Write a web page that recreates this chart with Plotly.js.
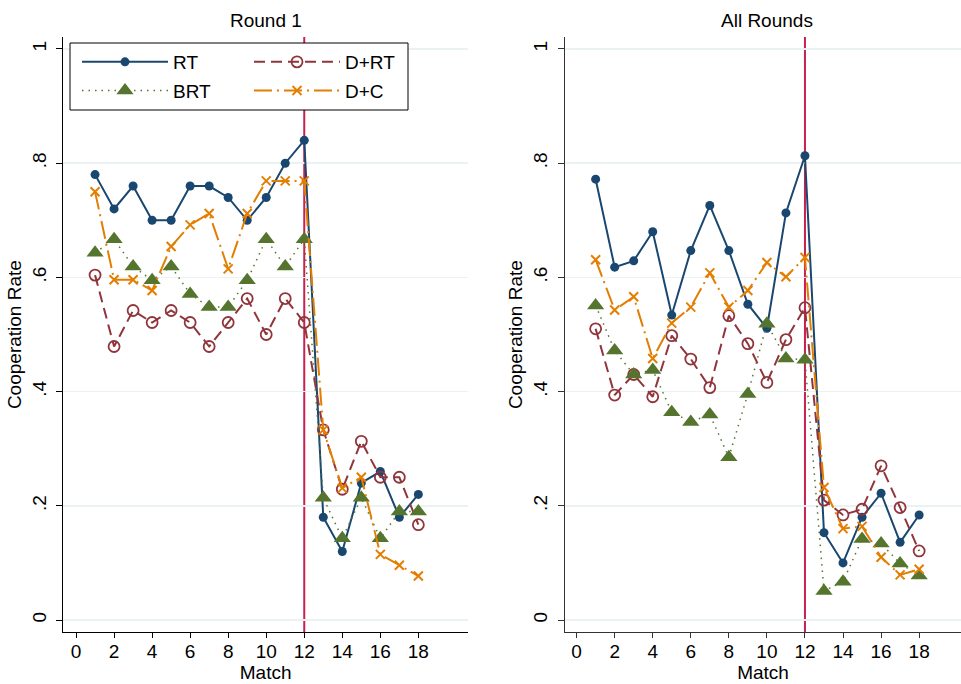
<!DOCTYPE html>
<html>
<head>
<meta charset="utf-8">
<script src="https://cdn.plot.ly/plotly-3.0.1.min.js"></script>
<style>html,body{margin:0;padding:0;background:#fff;}#chart{width:961px;height:684px;}</style>
</head>
<body>
<div id="chart"></div>
<script>
const matches = [1,2,3,4,5,6,7,8,9,10,11,12,13,14,15,16,17,18];
const seriesNames = ["RT","D+RT","BRT","D+C"];

// Round 1
const r1_RT  = [0.78,0.72,0.76,0.70,0.70,0.76,0.76,0.74,0.70,0.74,0.80,0.84,0.18,0.12,0.24,0.26,0.18,0.22];
const r1_DRT = [0.604,0.479,0.542,0.521,0.542,0.521,0.479,0.521,0.563,0.500,0.563,0.521,0.333,0.229,0.313,0.25,0.25,0.167];
const r1_BRT = [0.643,0.667,0.619,0.595,0.619,0.571,0.548,0.548,0.595,0.667,0.619,0.667,0.214,0.143,0.214,0.143,0.190,0.190];
const r1_DC  = [0.75,0.596,0.596,0.577,0.654,0.692,0.712,0.615,0.712,0.769,0.769,0.769,0.333,0.231,0.25,0.115,0.096,0.077];

// All rounds
const all_RT  = [0.772,0.618,0.629,0.680,0.534,0.647,0.726,0.647,0.553,0.511,0.713,0.813,0.153,0.100,0.180,0.222,0.136,0.184];
const all_DRT = [0.510,0.394,0.430,0.391,0.498,0.457,0.407,0.533,0.484,0.416,0.491,0.547,0.210,0.184,0.194,0.270,0.197,0.121];
const all_BRT = [0.551,0.472,0.430,0.438,0.364,0.347,0.360,0.285,0.396,0.519,0.458,0.456,0.051,0.067,0.142,0.134,0.099,0.078];
const all_DC  = [0.631,0.543,0.566,0.458,0.520,0.548,0.608,0.548,0.577,0.626,0.601,0.635,0.232,0.160,0.164,0.110,0.079,0.089];

const xTickVals = [0,2,4,6,8,10,12,14,16,18];
const yTickVals = [0,0.2,0.4,0.6,0.8,1];
const yTickText = ["0",".2",".4",".6",".8","1"];
const breakMatch = 12;

const FONT = "Liberation Sans, Arial, sans-serif";
const styles = {
  "RT":   {color:"#1a476f", dash:"solid", width:2, marker:{symbol:"circle", size:9, color:"#1a476f"}},
  "D+RT": {color:"#90353b", dash:"11px,6px", width:2, marker:{symbol:"circle-open", size:11, color:"#90353b", line:{width:1.8}}},
  "BRT":  {color:"#55752f", dash:"1.5px,5px", width:1.5, marker:{symbol:"triangle-up", size:15, color:"#55752f"}},
  "D+C":  {color:"#e37e00", dash:"18px,5px,2px,5px", width:2, marker:{symbol:"x-thin-open", size:9, color:"#e37e00", line:{width:2, color:"#e37e00"}}}
};

function tr(name, y, xa, ya, show, legend, group) {
  const s = styles[name];
  return {
    x: matches, y: y, name: name, type: "scatter", mode: "lines+markers",
    xaxis: xa, yaxis: ya, showlegend: show, legend: legend, legendgroup: group,
    line: {color: s.color, dash: s.dash, width: s.width},
    marker: s.marker
  };
}

const data = [
  tr("RT", r1_RT, "x", "y", true, "legend", "a"),
  tr("D+RT", r1_DRT, "x", "y", true, "legend2", "b"),
  tr("BRT", r1_BRT, "x", "y", true, "legend", "c"),
  tr("D+C", r1_DC, "x", "y", true, "legend2", "d"),
  tr("RT", all_RT, "x2", "y2", false, "legend", "a"),
  tr("D+RT", all_DRT, "x2", "y2", false, "legend2", "b"),
  tr("BRT", all_BRT, "x2", "y2", false, "legend", "c"),
  tr("D+C", all_DC, "x2", "y2", false, "legend2", "d")
];

const W = 961, H = 684;
const yDom = [(H-632.3)/H, (H-37)/H];

function xAxis(domain, range, anchor, lineColor) {
  return {
    domain: domain, range: range, anchor: anchor,
    tickmode: "array", tickvals: xTickVals, ticks: "outside", ticklen: 5, tickwidth: 1, tickcolor: lineColor,
    showline: true, linecolor: lineColor, linewidth: 1, showgrid: false, zeroline: false,
    ticklabelstandoff: -3,
    tickfont: {family: FONT, size: 19, color: "#000"},
    title: {text: "Match", font: {family: FONT, size: 19, color: "#000"}, standoff: 4}
  };
}
function yAxis(anchor, lineColor) {
  return {
    domain: yDom, range: [-0.0215, 1.021], anchor: anchor,
    tickmode: "array", tickvals: yTickVals, ticktext: yTickText, tickangle: -90,
    ticks: "outside", ticklen: 6, tickwidth: 1, tickcolor: lineColor,
    showline: true, linecolor: lineColor, linewidth: 1,
    showgrid: true, gridcolor: "#eaf2f3", gridwidth: 1.5, zeroline: false,
    ticklabelstandoff: 3,
    tickfont: {family: FONT, size: 19, color: "#000"},
    title: {text: "Cooperation Rate", font: {family: FONT, size: 19, color: "#000"}, standoff: 2}
  };
}

const x1L = 63.3/W, x1R = 468/W, x2L = 565/W;

const legendCommon = {
  yanchor: "top", xanchor: "left", orientation: "v",
  bgcolor: "rgba(0,0,0,0)", borderwidth: 0, itemwidth: 86,
  font: {family: FONT, size: 19, color: "#000"}, tracegroupgap: 1, itemclick: false
};

const layout = {
  width: W, height: H,
  margin: {l: 0, r: 0, t: 0, b: 0},
  paper_bgcolor: "#fff", plot_bgcolor: "#fff",
  font: {family: FONT, size: 19, color: "#000"},
  xaxis: xAxis([x1L, x1R], [-0.67, 20.61], "y", "#000"),
  yaxis: yAxis("x", "#000"),
  xaxis2: xAxis([x2L, 1], [-0.61, 20.2], "y2", "#333"),
  yaxis2: yAxis("x2", "#333"),
  legend: Object.assign({}, legendCommon, {x: 77/W, y: (H-43)/H}),
  legend2: Object.assign({}, legendCommon, {x: 249/W, y: (H-43)/H}),
  shapes: [
    {type: "line", xref: "x", yref: "y domain", x0: breakMatch, x1: breakMatch, y0: 0, y1: 1,
     line: {color: "#c8204f", width: 2}, layer: "below"},
    {type: "line", xref: "x2", yref: "y2 domain", x0: breakMatch, x1: breakMatch, y0: 0, y1: 1,
     line: {color: "#c8204f", width: 2}, layer: "below"},
    {type: "rect", xref: "paper", yref: "paper", x0: 70/W, x1: 408/W, y0: (H-110)/H, y1: (H-43)/H,
     line: {color: "#000", width: 1}, fillcolor: "#fff", layer: "above"}
  ],
  annotations: [
    {text: "Round 1", xref: "paper", yref: "paper", x: 265.5/W, y: (H-20)/H, xanchor: "center", yanchor: "middle",
     showarrow: false, font: {family: FONT, size: 19, color: "#000"}},
    {text: "All Rounds", xref: "paper", yref: "paper", x: 767/W, y: (H-20)/H, xanchor: "center", yanchor: "middle",
     showarrow: false, font: {family: FONT, size: 19, color: "#000"}}
  ]
};

Plotly.newPlot("chart", data, layout, {staticPlot: true, displayModeBar: false});
</script>
</body>
</html>
